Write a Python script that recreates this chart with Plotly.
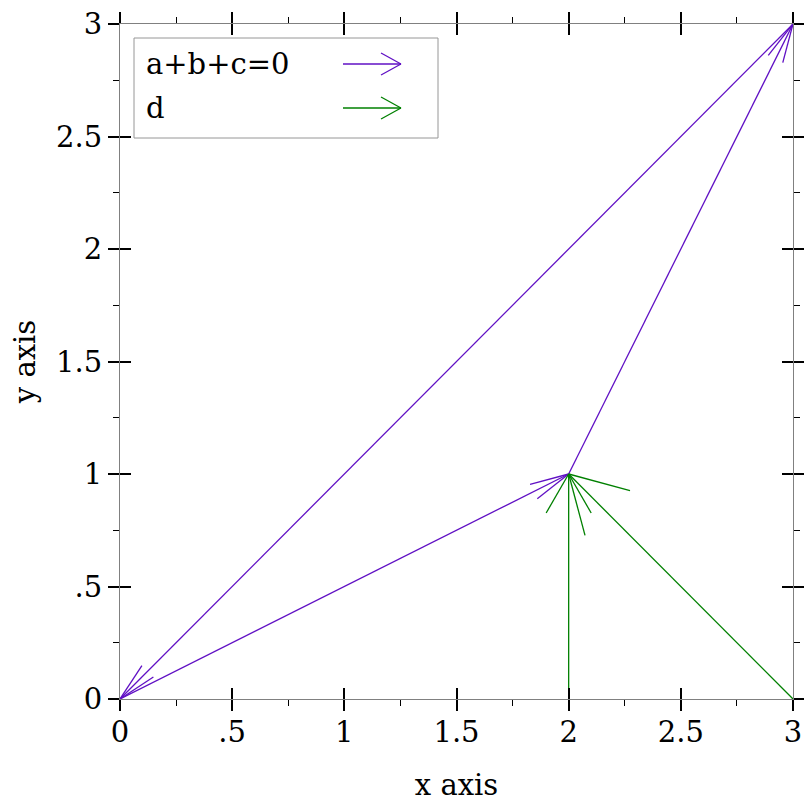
import math
import plotly.graph_objects as go

# ---- data ----
abc_x = [0, 2, 3]
abc_y = [0, 1, 3]
abc_dx = [2, 1, -3]
abc_dy = [1, 2, -3]

d_x = [2, 3]
d_y = [0, 0]
d_dx = [0, -1]
d_dy = [1, 1]

tick_vals = [0, 0.5, 1, 1.5, 2, 2.5, 3]
tick_text = ["0", ".5", "1", "1.5", "2", "2.5", "3"]
minor_vals = [0.25, 0.75, 1.25, 1.75, 2.25, 2.75]

series_names = ["a+b+c=0", "d"]
purple = "rgb(96,16,196)"
green = "rgb(0,128,0)"

# ---- geometry (page body has an 8px margin) ----
OFF = 8
W = H = 812
ML, MR, MT, MB = 120 - OFF, 812 - 793 + OFF, 24 - OFF, 812 - 699 + OFF
PW = W - ML - MR
PH = H - MT - MB
XR = [0, 3]
YR = [0, 3]
SX = PW / (XR[1] - XR[0])
SY = PH / (YR[1] - YR[0])
FONT = "DejaVu Serif"
FS = 29
LW = 1.3


def arrow_paths(xs, ys, dxs, dys):
    out = []
    for x, y, dx, dy in zip(xs, ys, dxs, dys):
        px, py = [], []
        tx, ty = x + dx, y + dy
        vx, vy = dx * SX, dy * SY
        L = math.hypot(vx, vy)
        ux, uy = -vx / L, -vy / L
        hl = 0.2 * L
        ang = math.radians(30)
        if hl > 70:
            hl = 40
            ang = math.radians(11.7)
        px += [x, tx, None]
        py += [y, ty, None]
        for s in (1, -1):
            c, sn = math.cos(s * ang), math.sin(s * ang)
            rx = ux * c - uy * sn
            ry = ux * sn + uy * c
            px += [tx, tx + rx * hl / SX, None]
            py += [ty, ty + ry * hl / SY, None]
        out.append((px, py))
    return out


fig = go.Figure()
for i, (ax, ay) in enumerate(arrow_paths(abc_x, abc_y, abc_dx, abc_dy)):
    fig.add_trace(go.Scatter(x=ax, y=ay, mode="lines", name=series_names[0],
                             legendgroup="abc", line=dict(color=purple, width=LW),
                             showlegend=False, hoverinfo="skip"))
for i, (gx, gy) in enumerate(arrow_paths(d_x, d_y, d_dx, d_dy)):
    fig.add_trace(go.Scatter(x=gx, y=gy, mode="lines", name=series_names[1],
                             legendgroup="d", line=dict(color=green, width=LW),
                             showlegend=False, hoverinfo="skip"))
# invisible trace for overlay axes (inside ticks)
fig.add_trace(go.Scatter(x=[None], y=[None], xaxis="x2", yaxis="y2", mode="markers",
                         showlegend=False, hoverinfo="skip"))

tickfont = dict(family=FONT, size=FS, color="black")
common = dict(range=XR, tickvals=tick_vals, ticktext=tick_text,
              ticklen=11, tickwidth=2, tickcolor="black",
              showgrid=False, zeroline=False, mirror="ticks",
              showline=True, linecolor="rgb(128,128,128)", linewidth=1,
              minor=dict(tickvals=minor_vals, ticklen=6, tickwidth=1,
                         tickcolor="black", showgrid=False),
              tickfont=tickfont, fixedrange=True, automargin=False,
              ticklabeloverflow="allow")

fig.update_layout(
    width=W, height=H,
    margin=dict(l=ML, r=MR, t=MT, b=MB, pad=0),
    paper_bgcolor="white", plot_bgcolor="white",
    font=dict(family=FONT, size=FS, color="black"),
    xaxis=dict(**common, ticks="outside", ticklabelstandoff=-4,
               title=dict(text="x axis", font=dict(family=FONT, size=FS), standoff=26)),
    yaxis=dict(**{**common, "range": YR}, ticks="outside",
               title=dict(text="y axis", font=dict(family=FONT, size=FS), standoff=34)),
    xaxis2=dict(**common, ticks="inside", overlaying="x", anchor="y2",
                showticklabels=False),
    yaxis2=dict(**{**common, "range": YR}, ticks="inside", overlaying="y",
                anchor="x2", showticklabels=False),
    showlegend=False,
)


def paper_x(px):
    return (px - OFF - ML) / PW


def paper_y(py):
    return (H - MB - (py - OFF)) / PH


# custom legend (text left, arrow sample right); pixel positions in the page
fig.add_shape(type="rect", xref="paper", yref="paper",
              x0=paper_x(134), x1=paper_x(438), y0=paper_y(138), y1=paper_y(38),
              line=dict(color="rgb(150,150,150)", width=1), fillcolor="white",
              layer="above")
for name, col, cy in [(series_names[0], purple, 64), (series_names[1], green, 108)]:
    fig.add_annotation(text=name, xref="paper", yref="paper",
                       x=paper_x(144), y=paper_y(cy), xanchor="left", yanchor="middle",
                       showarrow=False, font=dict(family=FONT, size=FS, color="black"))
    for (x0, y0, x1, y1) in [(343, cy, 401, cy), (401, cy, 381, cy - 11), (401, cy, 381, cy + 11)]:
        fig.add_shape(type="line", xref="paper", yref="paper",
                      x0=paper_x(x0), y0=paper_y(y0), x1=paper_x(x1), y1=paper_y(y1),
                      line=dict(color=col, width=LW), layer="above")

fig.write_html("out.html")
